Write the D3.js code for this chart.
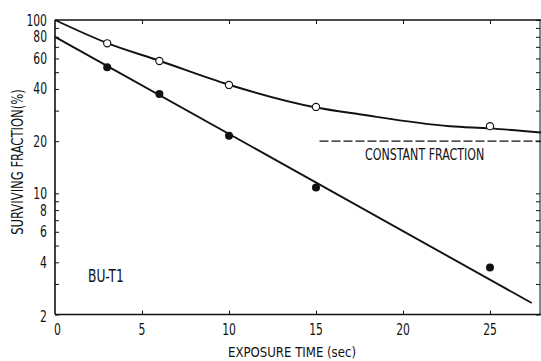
<!DOCTYPE html>
<html><head><meta charset="utf-8">
<script src="https://cdn.jsdelivr.net/npm/d3@7"></script>
<style>
html,body{margin:0;padding:0;background:#fff;}
svg{display:block;}
text{font-family:"Liberation Sans Narrow","DejaVu Sans Condensed","Arial Narrow",sans-serif;fill:#111;}
</style></head>
<body><svg id="c" width="541" height="361"></svg>
<script>
// ---- data ----
const openTimes = [3, 6, 10, 15, 25];
const openValues = [73.4, 58.0, 42.2, 31.5, 24.4];
const filledTimes = [3, 6, 10, 15, 25];
const filledValues = [53.3, 37.4, 21.5, 10.8, 3.74];
// fitted curves
const openCurveTimes = [0, 3, 6, 10, 15, 17.5, 22.7, 25, 28];
const openCurveValues = [100, 73.6, 58.2, 42.3, 31.3, 28.6, 24.4, 23.7, 22.4];
const filledLineTimes = [0, 27.4];
const filledLineValues = [80, 2.33];
const constantTimes = [15.2, 28];
const constantValues = [20, 20];
const xTicks = [0, 5, 10, 15, 20, 25];
const yTickLabels = [100, 80, 60, 40, 20, 10, 8, 6, 4, 2];
const yMinorTicks = [2,3,4,5,6,7,8,9,10,20,30,40,50,60,70,80,90,100];
const xTitle = "EXPOSURE TIME (sec)";
const yTitle = "SURVIVING FRACTION(%)";
const sampleLabel = "BU-T1";
const constantLabel = "CONSTANT FRACTION";

(function () {
// ---- layout ----
const svg = d3.select("#c");
const pL = 55, pR = 540, pT = 20, pB = 314.5;
const x = d3.scaleLinear().domain([0, 28]).range([pL, pL + 28 * 17.4]);
const y = d3.scaleLog().domain([2, 100]).range([pB, pT]);

function squeeze(sel, factor) {
  sel.each(function () {
    const L = this.getComputedTextLength();
    this.setAttribute("textLength", (L * factor).toFixed(1));
    this.setAttribute("lengthAdjust", "spacingAndGlyphs");
  });
}

// frame
const frame = svg.append("g").attr("stroke", "#111").attr("stroke-width", 1.6).attr("fill", "none");
frame.append("line").attr("x1", pL).attr("x2", pL).attr("y1", pT).attr("y2", pB);
frame.append("line").attr("x1", pL).attr("x2", 541).attr("y1", pB).attr("y2", pB);
frame.append("line").attr("x1", pL).attr("x2", 541).attr("y1", pT).attr("y2", pT);
frame.append("line").attr("x1", pR).attr("x2", pR).attr("y1", pT).attr("y2", pB).attr("stroke-width", 1);

// axes (ticks inward)
const yAxisL = d3.axisRight(y).tickValues(yMinorTicks).tickSize(4).tickFormat("");
svg.append("g").attr("transform", `translate(${pL},0)`).call(yAxisL)
  .call(g => g.select(".domain").remove()).selectAll("line").attr("stroke", "#111");
const yAxisR = d3.axisLeft(y).tickValues(yMinorTicks).tickSize(4).tickFormat("");
svg.append("g").attr("transform", `translate(${pR},0)`).call(yAxisR)
  .call(g => g.select(".domain").remove()).selectAll("line").attr("stroke", "#111");
const xAxisB = d3.axisTop(x).tickValues(xTicks.slice(1)).tickSize(4).tickFormat("");
svg.append("g").attr("transform", `translate(0,${pB})`).call(xAxisB)
  .call(g => g.select(".domain").remove()).selectAll("line").attr("stroke", "#111");
const xAxisT = d3.axisBottom(x).tickValues(xTicks.slice(1)).tickSize(4).tickFormat("");
svg.append("g").attr("transform", `translate(0,${pT})`).call(xAxisT)
  .call(g => g.select(".domain").remove()).selectAll("line").attr("stroke", "#111");

// tick labels
const yl = svg.append("g").selectAll("text").data(yTickLabels).join("text")
  .attr("x", 47).attr("y", d => y(d) + 5.5 + (d === 2 ? 1.5 : 0))
  .attr("text-anchor", "end").attr("font-size", 15).text(d => d);
squeeze(yl, 0.8);
const xl = svg.append("g").selectAll("text").data(xTicks).join("text")
  .attr("x", d => x(d) + (d === 0 ? 2.5 : 0)).attr("y", 334.5)
  .attr("text-anchor", "middle").attr("font-size", 15).text(d => d);
squeeze(xl, 0.8);

// titles
const xt = svg.append("text").attr("x", 292).attr("y", 356.5).attr("text-anchor", "middle")
  .attr("font-size", 14.5).text(xTitle);
squeeze(xt, 0.9);
const yt = svg.append("text").attr("transform", "translate(23,162) rotate(-90)")
  .attr("text-anchor", "middle").attr("font-size", 15).text(yTitle);
squeeze(yt, 0.86);

// curves
const lineGen = d3.line().x(d => x(d[0])).y(d => y(d[1]));
svg.append("path").datum(openCurveTimes.map((t, i) => [t, openCurveValues[i]]))
  .attr("d", d3.line().x(d => x(d[0])).y(d => y(d[1])).curve(d3.curveMonotoneX))
  .attr("fill", "none").attr("stroke", "#111").attr("stroke-width", 1.9);
svg.append("path").datum(filledLineTimes.map((t, i) => [t, filledLineValues[i]]))
  .attr("d", lineGen).attr("fill", "none").attr("stroke", "#111").attr("stroke-width", 1.9);
svg.append("path").datum(constantTimes.map((t, i) => [t, constantValues[i]]))
  .attr("d", lineGen).attr("fill", "none")
  .attr("stroke", "#111").attr("stroke-width", 1.3).attr("stroke-dasharray", "9,3");

// points
svg.append("g").selectAll("circle").data(openTimes.map((t, i) => [t, openValues[i]])).join("circle")
  .attr("cx", d => x(d[0])).attr("cy", d => y(d[1])).attr("r", 3.6)
  .attr("fill", "#fff").attr("stroke", "#111").attr("stroke-width", 1.1);
svg.append("g").selectAll("circle").data(filledTimes.map((t, i) => [t, filledValues[i]])).join("circle")
  .attr("cx", d => x(d[0])).attr("cy", d => y(d[1])).attr("r", 4)
  .attr("fill", "#111");

// labels
const bl = svg.append("text").attr("x", 88).attr("y", 281.5).attr("font-size", 17).text(sampleLabel);
squeeze(bl, 0.8);
const cl = svg.append("text").attr("x", 365).attr("y", 159.5).attr("font-size", 15).text(constantLabel);
squeeze(cl, 0.82);
})();
</script></body></html>
